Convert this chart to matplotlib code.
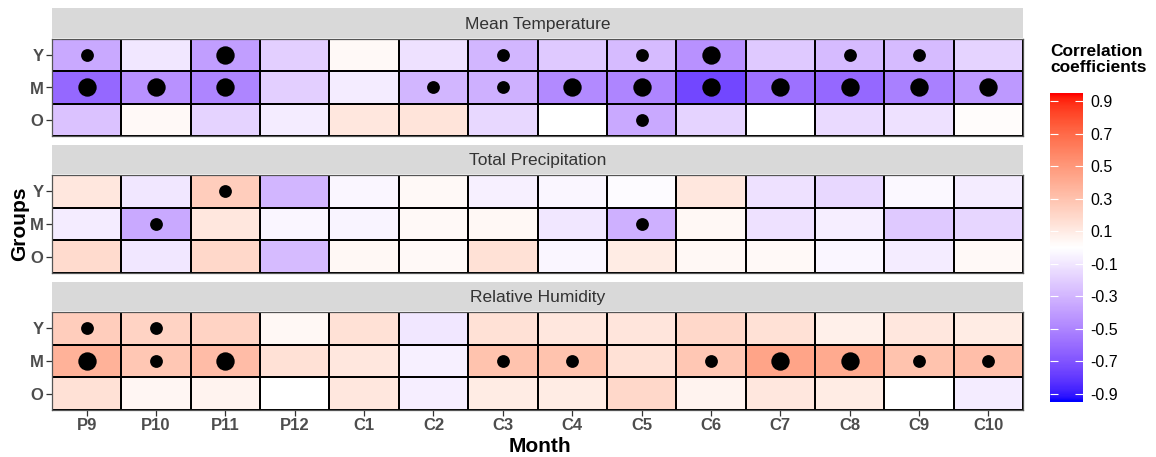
import numpy as np
import matplotlib.pyplot as plt
from matplotlib.colors import ListedColormap, Normalize

plt.rcParams['font.family'] = ['Liberation Sans', 'DejaVu Sans']

months = ['P9', 'P10', 'P11', 'P12', 'C1', 'C2', 'C3', 'C4', 'C5', 'C6', 'C7', 'C8', 'C9', 'C10']
groups = ['Y', 'M', 'O']
variables = ['Mean Temperature', 'Total Precipitation', 'Relative Humidity']

# correlation coefficients, rows Y / M / O
temp_r = [
    [-0.35, -0.10, -0.40, -0.20, 0.03, -0.12, -0.30, -0.22, -0.28, -0.45, -0.22, -0.28, -0.28, -0.18],
    [-0.62, -0.45, -0.50, -0.20, -0.08, -0.30, -0.32, -0.48, -0.50, -0.75, -0.58, -0.62, -0.52, -0.42],
    [-0.25, 0.03, -0.18, -0.08, 0.12, 0.14, -0.16, 0.00, -0.35, -0.18, 0.00, -0.15, -0.12, 0.02],
]
prec_r = [
    [0.12, -0.10, 0.25, -0.30, -0.04, 0.03, -0.06, -0.04, -0.02, 0.12, -0.12, -0.16, -0.03, -0.08],
    [-0.08, -0.35, 0.12, -0.04, -0.05, 0.03, 0.04, -0.10, -0.32, 0.04, -0.12, -0.07, -0.22, -0.17],
    [0.18, -0.10, 0.20, -0.28, 0.04, 0.03, 0.15, -0.04, 0.10, 0.04, 0.03, -0.04, -0.08, 0.03],
]
hum_r = [
    [0.25, 0.22, 0.22, 0.04, 0.15, -0.10, 0.15, 0.12, 0.13, 0.20, 0.15, 0.08, 0.12, 0.10],
    [0.38, 0.28, 0.33, 0.15, 0.12, -0.06, 0.30, 0.30, 0.15, 0.28, 0.45, 0.42, 0.30, 0.32],
    [0.15, 0.05, 0.06, 0.00, 0.12, -0.07, 0.10, 0.10, 0.20, 0.06, 0.12, 0.10, 0.00, -0.08],
]

# significance: 0 = n.s., 1 = p<0.05, 2 = p<0.01
temp_sig = [
    [1, 0, 2, 0, 0, 0, 1, 0, 1, 2, 0, 1, 1, 0],
    [2, 2, 2, 0, 0, 1, 1, 2, 2, 2, 2, 2, 2, 2],
    [0, 0, 0, 0, 0, 0, 0, 0, 1, 0, 0, 0, 0, 0],
]
prec_sig = [
    [0, 0, 1, 0, 0, 0, 0, 0, 0, 0, 0, 0, 0, 0],
    [0, 1, 0, 0, 0, 0, 0, 0, 1, 0, 0, 0, 0, 0],
    [0, 0, 0, 0, 0, 0, 0, 0, 0, 0, 0, 0, 0, 0],
]
hum_sig = [
    [1, 1, 0, 0, 0, 0, 0, 0, 0, 0, 0, 0, 0, 0],
    [2, 1, 2, 0, 0, 0, 1, 1, 0, 1, 2, 2, 1, 1],
    [0, 0, 0, 0, 0, 0, 0, 0, 0, 0, 0, 0, 0, 0],
]

cbar_ticks = [0.9, 0.7, 0.5, 0.3, 0.1, -0.1, -0.3, -0.5, -0.7, -0.9]


# blue - white - red gradient interpolated in CIELAB
def srgb_to_lab(rgb):
    c = np.asarray(rgb, float)
    c = np.where(c > 0.04045, ((c + 0.055) / 1.055) ** 2.4, c / 12.92)
    m = np.array([[0.4124, 0.3576, 0.1805], [0.2126, 0.7152, 0.0722], [0.0193, 0.1192, 0.9505]])
    xyz = m @ c / np.array([0.95047, 1.0, 1.08883])
    f = np.where(xyz > 0.008856, np.cbrt(xyz), 7.787 * xyz + 16 / 116)
    return np.array([116 * f[1] - 16, 500 * (f[0] - f[1]), 200 * (f[1] - f[2])])


def lab_to_srgb(lab):
    L, a, b = lab
    fy = (L + 16) / 116
    fx = fy + a / 500
    fz = fy - b / 200
    f = np.array([fx, fy, fz])
    xyz = np.where(f ** 3 > 0.008856, f ** 3, (f - 16 / 116) / 7.787) * np.array([0.95047, 1.0, 1.08883])
    m = np.array([[3.2406, -1.5372, -0.4986], [-0.9689, 1.8758, 0.0415], [0.0557, -0.2040, 1.0570]])
    c = m @ xyz
    c = np.where(c > 0.0031308, 1.055 * np.clip(c, 0, None) ** (1 / 2.4) - 0.055, 12.92 * c)
    return np.clip(c, 0, 1)


blue, white, red = srgb_to_lab([0, 0, 1]), srgb_to_lab([1, 1, 1]), srgb_to_lab([1, 0, 0])
ts = np.linspace(0, 1, 128)
colors = [lab_to_srgb(blue + (white - blue) * t) for t in ts] + \
         [lab_to_srgb(white + (red - white) * t) for t in ts]
cmap = ListedColormap(colors)
norm = Normalize(-0.95, 0.95)

W, H = 1156, 457
fig = plt.figure(figsize=(W / 100, H / 100), dpi=100)


def rect(x0, y0, x1, y1):
    return [x0 / W, 1 - y1 / H, (x1 - x0) / W, (y1 - y0) / H]


panels = [(temp_r, temp_sig, 8, 39, 136), (prec_r, prec_sig, 145, 175, 273), (hum_r, hum_sig, 282, 312, 410)]
sizes = {1: 85, 2: 175}

for k, (r, sig, strip_top, top, bottom) in enumerate(panels):
    ax = fig.add_axes(rect(52, top, 1023, bottom))
    vals = np.array(r)
    ax.pcolormesh(np.arange(len(months) + 1), np.arange(len(groups) + 1), vals,
                  cmap=cmap, norm=norm, edgecolors='black', linewidth=1.1)
    s = np.array(sig)
    for lvl, sz in sizes.items():
        yy, xx = np.nonzero(s == lvl)
        ax.scatter(xx + 0.5, yy + 0.5, s=sz, color='black', zorder=3, linewidths=0)
    ax.set_xlim(0, len(months))
    ax.set_ylim(len(groups), 0)
    ax.set_yticks(np.arange(len(groups)) + 0.5)
    ax.set_yticklabels(groups, fontsize=12, fontweight='bold', color='#4d4d4d')
    ax.set_xticks(np.arange(len(months)) + 0.5)
    ax.tick_params(length=4, width=0.9, color='#333333', pad=2)
    if k == 2:
        ax.set_xticklabels(months, fontsize=12, fontweight='bold', color='#4d4d4d')
    else:
        ax.set_xticklabels([])
        ax.tick_params(axis='x', length=0)
    for sp in ax.spines.values():
        sp.set_color('#555555')
        sp.set_linewidth(0.9)

    strip = fig.add_axes(rect(52, strip_top, 1023, top - 1))
    strip.set_facecolor('#d9d9d9')
    strip.set_xticks([])
    strip.set_yticks([])
    for sp in strip.spines.values():
        sp.set_visible(False)
    strip.text(0.5, 0.45, variables[k], ha='center', va='center', fontsize=12.5, color='#333333',
               transform=strip.transAxes)

fig.text(540 / W, 1 - 446 / H, 'Month', ha='center', va='center', fontsize=15, fontweight='bold')
fig.text(20 / W, 1 - 224 / H, 'Groups', ha='center', va='center', fontsize=15, fontweight='bold',
         rotation=90)

# colour bar
cax = fig.add_axes(rect(1050, 93, 1083, 402))
grad = np.linspace(-0.95, 0.95, 300).reshape(-1, 1)
cax.imshow(grad, cmap=cmap, norm=norm, aspect='auto', origin='lower',
           extent=[0, 1, -0.95, 0.95])
cax.set_xlim(0, 1)
cax.set_ylim(-0.95, 0.95)
cax.set_xticks([])
cax.set_yticks(cbar_ticks)
cax.set_yticklabels([f'{t:.1f}' for t in cbar_ticks], fontsize=11.5, color='black')
cax.tick_params(axis='y', left=True, right=True, labelleft=False, labelright=True,
                direction='in', color='white', length=6, width=0.8, pad=5)
for sp in cax.spines.values():
    sp.set_visible(False)
fig.text(1050 / W, 1 - 44 / H, 'Correlation\ncoefficients', ha='left', va='top', fontsize=12.5,
         fontweight='bold', linespacing=1.05)

fig.savefig('out.png', dpi=100)
